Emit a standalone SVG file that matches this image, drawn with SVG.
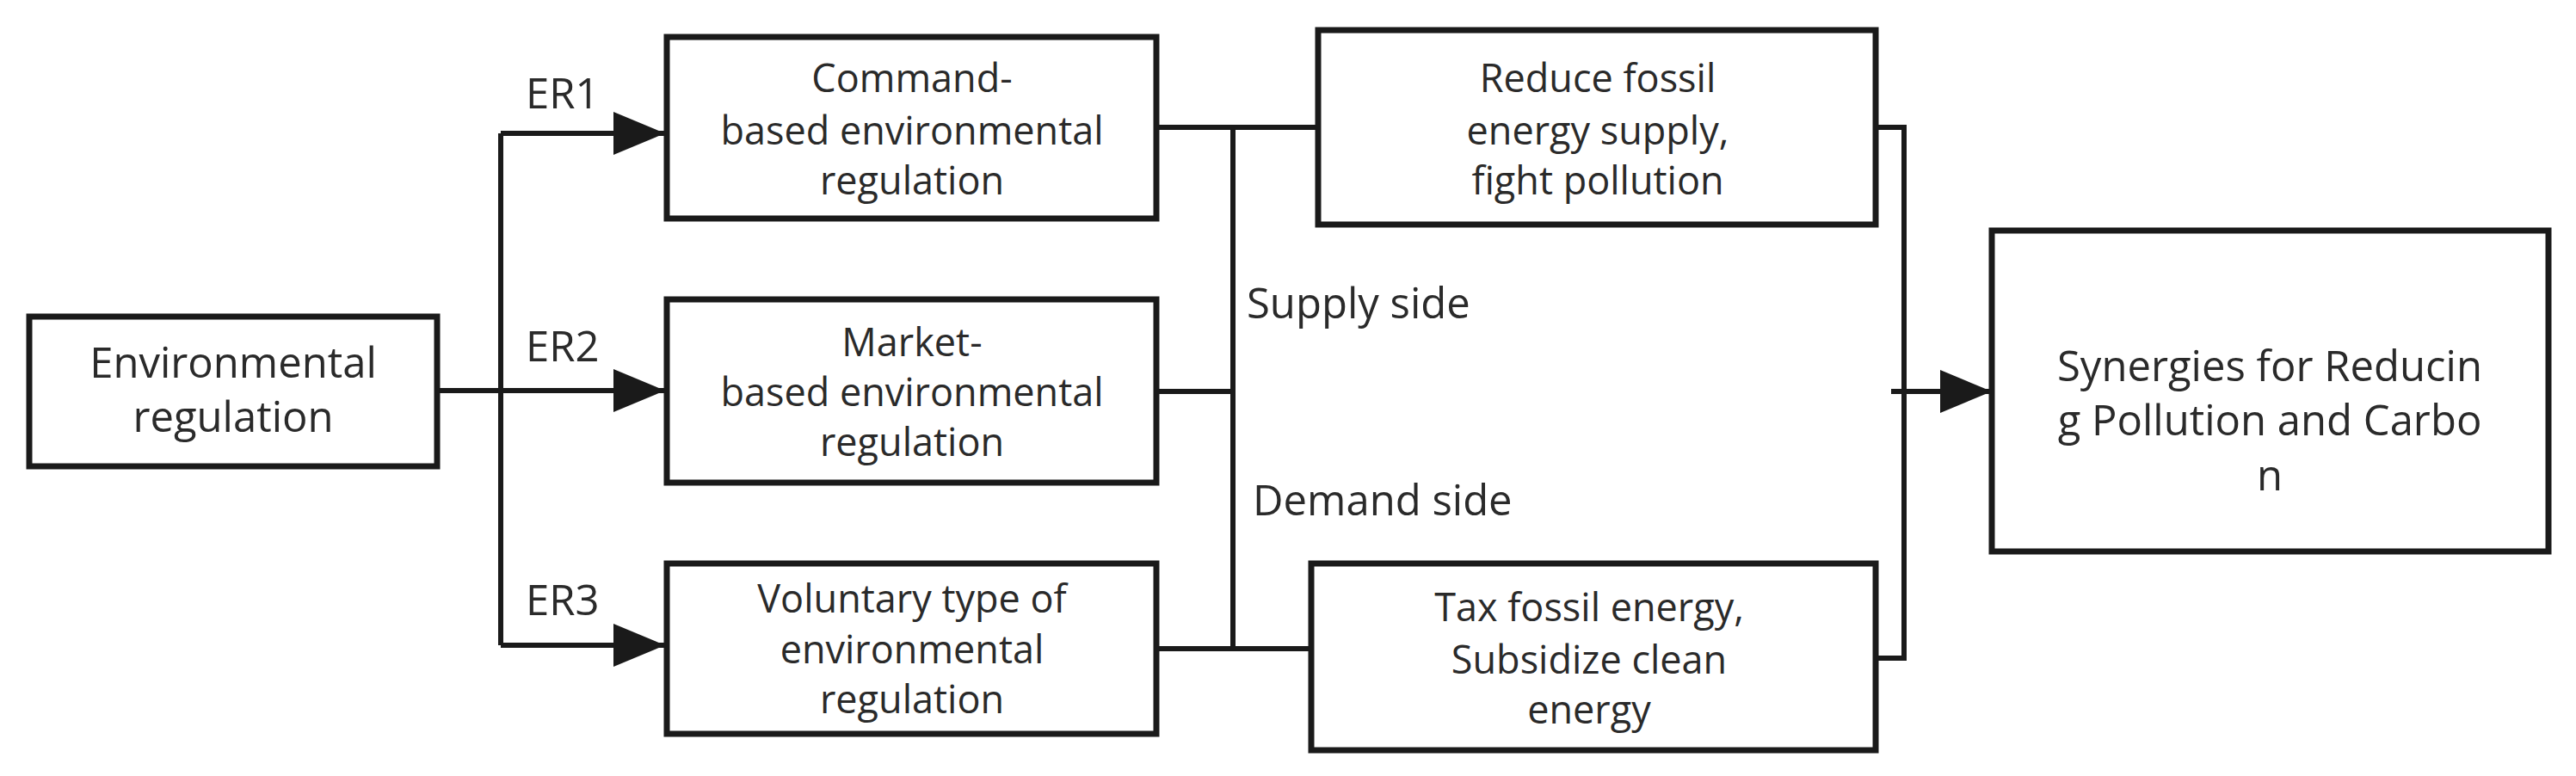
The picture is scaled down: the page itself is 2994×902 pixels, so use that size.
<svg xmlns="http://www.w3.org/2000/svg" width="2994" height="902" viewBox="0 0 2994 902">
<style>
.box{fill:#fff;stroke:#1a1a1a;stroke-width:7}
.ln{fill:none;stroke:#1a1a1a;stroke-width:6}
text{font-family:"Open Sans","Liberation Sans",sans-serif;font-size:49px;fill:#2a2a2a;text-anchor:middle}
.l{text-anchor:start}
.m{font-size:45px}
</style>
<defs>
<marker id="a" viewBox="0 0 10 10" refX="10" refY="5" markerWidth="60" markerHeight="50" markerUnits="userSpaceOnUse" orient="auto" preserveAspectRatio="none"><path d="M0,0 L10,5 L0,10 z" fill="#1a1a1a"/></marker></defs>
<rect width="2994" height="902" fill="#fff"/>
<g id="connectors">
<path class="ln" d="M508,454 H582 M582,155 V750"/>
<path class="ln" d="M582,155 H773" marker-end="url(#a)"/>
<path class="ln" d="M582,454 H773" marker-end="url(#a)"/>
<path class="ln" d="M582,750 H773" marker-end="url(#a)"/>
<path class="ln" d="M1344,148 H1532 M1344,455 H1433 M1344,754 H1524 M1433,148 V756"/>
<path class="ln" d="M2180,148 H2213 V765 H2180"/>
<path class="ln" d="M2198,455 H2315" marker-end="url(#a)"/>
</g>
<g id="labels">
<text class="l" x="611" y="126">ER1</text>
<text class="l" x="611" y="420">ER2</text>
<text class="l" x="611" y="715">ER3</text>
<text class="l" x="1449" y="370">Supply side</text>
<text class="l" x="1456" y="599">Demand side</text>
</g>
<g id="env"><rect class="box" x="34" y="368" width="474" height="174"/><text x="271" y="439">Environmental</text><text x="271" y="502">regulation</text></g>
<g id="command" class="m"><rect class="box" x="775" y="43" width="569" height="211"/><text class="m" x="1060" y="107">Command-</text><text class="m" x="1060" y="168">based environmental</text><text class="m" x="1060" y="226">regulation</text></g>
<g id="market"><rect class="box" x="775" y="348" width="569" height="213"/><text class="m" x="1060" y="414">Market-</text><text class="m" x="1060" y="472">based environmental</text><text class="m" x="1060" y="530">regulation</text></g>
<g id="voluntary"><rect class="box" x="775" y="655" width="569" height="198"/><text class="m" x="1060" y="712">Voluntary type of</text><text class="m" x="1060" y="771">environmental</text><text class="m" x="1060" y="829">regulation</text></g>
<g id="supply"><rect class="box" x="1532" y="35" width="648" height="226"/><text class="m" x="1857" y="107">Reduce fossil</text><text class="m" x="1857" y="168">energy supply,</text><text class="m" x="1857" y="226">fight pollution</text></g>
<g id="demand"><rect class="box" x="1524" y="655" width="656" height="217"/><text class="m" x="1847" y="722">Tax fossil energy,</text><text class="m" x="1847" y="783">Subsidize clean</text><text class="m" x="1847" y="841">energy</text></g>
<g id="synergy"><rect class="box" x="2315" y="268" width="647" height="373"/><text x="2638" y="443">Synergies for Reducin</text><text x="2638" y="506">g Pollution and Carbo</text><text x="2638" y="570">n</text></g>
</svg>
